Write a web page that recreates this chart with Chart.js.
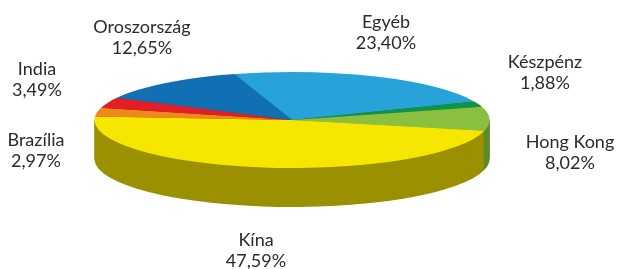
<!DOCTYPE html>
<html><head><meta charset="utf-8">
<script src="https://cdn.jsdelivr.net/npm/chart.js@4.4.1/dist/chart.umd.min.js"></script>
<style>html,body{margin:0;padding:0;background:#fff;overflow:hidden}</style>
</head><body>
<canvas id="c" width="619" height="269" style="display:block;width:619px;height:269px"></canvas>
<script>
// ---- data ----
const categories = ['Egyéb', 'Készpénz', 'Hong Kong', 'Kína', 'Brazília', 'India', 'Oroszország'];
const shares = [23.40, 1.88, 8.02, 47.59, 2.97, 3.49, 12.65];

// ---- styles / layout ----
const topColors  = ['#27a3d9', '#0e9442', '#8bbf3f', '#f6e700', '#ee8a1c', '#e31e24', '#1170b4'];
const sideColors = ['#1a7099', '#0a6a30', '#5a8a2a', '#9b9100', '#a8610f', '#a01519', '#0c4f80'];
const labelAnchors = [[386, 22], [545, 62], [570, 142], [256, 240], [36, 140], [37, 69], [142, 27]];
const PIE = { cx: 292, cy: 120, rx: 197.5, ry: 48, depth: 39, rotation: -17 };
const FONT = '18px Lato';
const LINE_H = 21;

function applyTransform(ctx, el, dy) {
  const R = el.outerRadius;
  ctx.translate(PIE.cx, PIE.cy + dy);
  ctx.scale(PIE.rx / R, PIE.ry / R);
  ctx.translate(-el.x, -el.y);
}

const pie3d = {
  id: 'pie3d',
  beforeDatasetsDraw(chart) {
    const ctx = chart.ctx;
    const meta = chart.getDatasetMeta(0);
    const ref = meta.data[0];
    for (let d = PIE.depth; d >= 1; d--) {
      ctx.save();
      applyTransform(ctx, ref, d);
      meta.data.forEach((el, i) => {
        const fake = Object.create(el);
        fake.options = Object.assign({}, el.options, { backgroundColor: sideColors[i], borderWidth: 0 });
        fake.draw(ctx);
      });
      ctx.restore();
    }
    ctx.save();
    applyTransform(ctx, ref, 0);
  },
  afterDatasetsDraw(chart) {
    chart.ctx.restore();
  },
  afterDraw(chart) {
    const ctx = chart.ctx;
    ctx.save();
    ctx.font = FONT;
    ctx.fillStyle = '#2b2b2b';
    ctx.textAlign = 'center';
    ctx.textBaseline = 'middle';
    categories.forEach((name, i) => {
      const [x, y] = labelAnchors[i];
      ctx.fillText(name, x, y);
      ctx.fillText(shares[i].toFixed(2).replace('.', ',') + '%', x, y + LINE_H);
    });
    ctx.restore();
  }
};

new Chart(document.getElementById('c'), {
  type: 'pie',
  data: {
    labels: categories,
    datasets: [{ data: shares, backgroundColor: topColors, borderWidth: 0 }]
  },
  options: {
    responsive: false,
    animation: false,
    rotation: PIE.rotation,
    layout: { padding: 0 },
    plugins: { legend: { display: false }, tooltip: { enabled: false } },
    events: []
  },
  plugins: [pie3d]
});
</script>
</body></html>
